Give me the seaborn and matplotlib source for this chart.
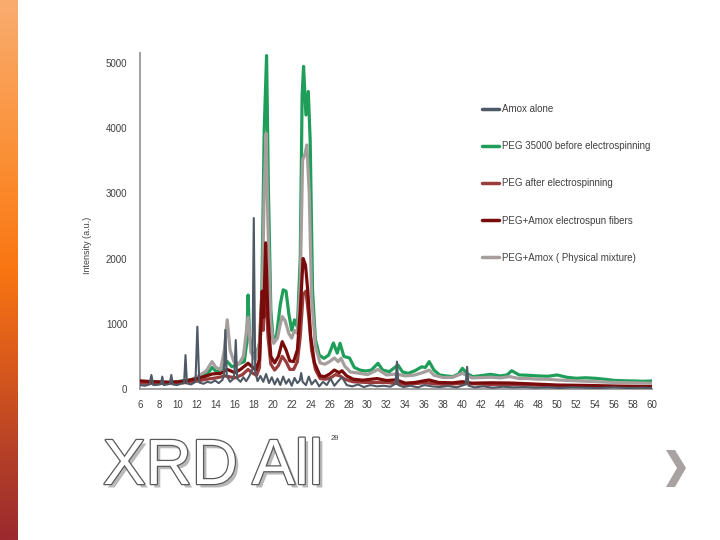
import matplotlib
matplotlib.use("Agg")
import matplotlib.pyplot as plt
import matplotlib.patheffects as pe
from matplotlib.colors import LinearSegmentedColormap
from matplotlib.lines import Line2D
from matplotlib.patches import Polygon
import numpy as np
import pandas as pd
import seaborn as sns

# --- data (2theta, intensity a.u.) ---
AMOX_X = [6.0, 6.5, 7.0, 7.2, 7.4, 7.9, 8.2, 8.35, 8.5, 8.9, 9.15, 9.3, 9.45, 9.9, 10.3, 10.65,
          10.8, 10.95, 11.4, 11.85, 12.05, 12.25, 12.7, 13.1, 13.5, 13.9, 14.3, 14.7, 14.85, 15.0,
          15.15, 15.5, 15.8, 15.95, 16.1, 16.25, 16.6, 16.9, 17.2, 17.5, 17.85, 18.0, 18.15, 18.4,
          18.7, 19.0, 19.3, 19.6, 19.9, 20.2, 20.5, 20.8, 21.1, 21.4, 21.7, 22.0, 22.3, 22.6, 22.85,
          23.0, 23.15, 23.5, 23.8, 24.1, 24.5, 24.9, 25.3, 25.7, 26.1, 26.5, 26.9, 27.3, 27.8, 28.4,
          29.0, 29.6, 30.3, 31.0, 31.7, 32.4, 32.95, 33.1, 33.25, 33.8, 34.5, 35.3, 36.0, 36.8, 37.6,
          38.5, 39.4, 40.35, 40.5, 40.65, 41.3, 42.2, 43.2, 44.3, 45.4, 46.5, 47.7, 49.0, 50.3, 51.6,
          53.0, 54.5, 56.0, 57.5, 59.0, 60.0]
AMOX_Y = [60, 50, 70, 215, 60, 65, 75, 190, 60, 70, 80, 215, 70, 60, 80, 90,
          520, 85, 70, 110, 955, 100, 80, 110, 95, 130, 90, 140, 220, 905,
          200, 110, 150, 230, 750, 160, 110, 180, 120, 190, 300, 2620, 260, 120,
          200, 110, 230, 90, 180, 70, 160, 60, 190, 80, 150, 50, 170, 90, 130,
          245, 110, 60, 190, 70, 140, 40, 110, 60, 160, 50, 120, 180, 60, 40,
          70, 30, 60, 40, 50, 35, 80, 420, 60, 30, 50, 25, 60, 40, 30,
          45, 25, 70, 340, 50, 25, 40, 20, 35, 25, 30, 20, 25, 15, 25,
          20, 15, 25, 15, 20, 15]

PEG_BEFORE_X = [6.0, 7.0, 8.0, 9.0, 10.0, 11.0, 11.8, 12.5, 13.1, 13.6, 14.1, 14.6, 15.2, 15.7, 16.3,
                17.0, 17.25, 17.4, 17.55, 17.8, 18.2, 18.6, 18.85, 19.1, 19.35, 19.55, 19.8, 20.05,
                20.4, 20.8, 21.1, 21.4, 21.7, 22.0, 22.3, 22.6, 22.9, 23.1, 23.25, 23.5, 23.75, 23.95,
                24.2, 24.5, 24.9, 25.4, 25.9, 26.4, 26.8, 27.1, 27.5, 28.1, 28.6, 29.2, 29.8, 30.4,
                31.1, 31.6, 32.3, 33.2, 33.7, 34.3, 35.0, 35.7, 36.1, 36.5, 37.0, 37.6, 38.3, 39.0,
                39.6, 40.0, 40.5, 41.1, 42.0, 43.0, 44.0, 44.7, 45.2, 46.0, 47.0, 48.0, 49.0, 50.0,
                51.0, 52.0, 53.0, 54.0, 55.0, 56.0, 57.0, 58.0, 59.0, 60.0]
PEG_BEFORE_Y = [110, 100, 105, 100, 115, 130, 160, 200, 230, 330, 260, 310, 420, 340, 380,
                420, 700, 1440, 800, 560, 495, 700, 1500, 3970, 5110, 3000, 1200, 750,
                820, 1300, 1520, 1500, 1150, 900, 1060, 950, 2000, 4500, 4945, 4200, 4560, 3800,
                1500, 760, 520, 470, 520, 705, 550, 700, 500, 475, 330, 290, 275, 290,
                394, 290, 265, 368, 260, 240, 280, 340, 330, 420, 290, 215, 200, 190,
                230, 317, 235, 190, 205, 225, 200, 215, 280, 215, 210, 200, 195, 215,
                180, 164, 172, 164, 150, 132, 126, 123, 118, 123]

PEG_AFTER_X = [6.0, 8.0, 10.0, 11.0, 12.0, 13.0, 14.0, 15.0, 16.0, 16.8, 17.4, 17.9, 18.3, 18.6,
               18.85, 19.0, 19.2, 19.5, 19.8, 20.2, 20.6, 21.0, 21.4, 21.8, 22.2, 22.6, 22.9, 23.2,
               23.5, 23.8, 24.1, 24.5, 25.0, 25.6, 26.2, 26.6, 27.1, 27.6, 28.5, 30.0, 32.0, 34.0,
               36.0, 38.0, 40.0, 43.0, 46.0, 50.0, 55.0, 60.0]
PEG_AFTER_Y = [90, 85, 90, 100, 120, 150, 170, 200, 170, 220, 300, 240, 210, 330,
               1490, 900, 1700, 800, 380, 290, 360, 500, 420, 300, 300, 420, 800, 1450,
               1500, 1100, 600, 300, 160, 150, 180, 220, 200, 150, 110, 100, 100, 70,
               95, 70, 85, 70, 65, 50, 40, 30]

FIBERS_X = [6.0, 7.0, 8.0, 9.0, 10.0, 11.0, 12.0, 13.0, 13.6, 14.5, 15.2, 16.0, 16.6, 17.4, 17.9,
            18.2, 18.6, 18.9, 19.05, 19.25, 19.5, 19.8, 20.2, 20.6, 21.0, 21.4, 21.8, 22.2, 22.6,
            22.9, 23.2, 23.45, 23.7, 24.0, 24.4, 25.0, 25.5, 26.0, 26.5, 27.0, 27.3, 27.8, 28.5,
            29.5, 31.0, 32.0, 33.0, 34.0, 35.0, 36.0, 36.5, 37.5, 39.0, 40.0, 41.0, 43.0, 45.0,
            47.0, 50.0, 53.0, 56.0, 60.0]
FIBERS_Y = [125, 115, 110, 105, 110, 130, 160, 200, 230, 240, 300, 250, 300, 395, 330,
            290, 450, 1500, 1100, 2240, 1100, 500, 400, 500, 725, 600, 430, 420, 600,
            1200, 2000, 1900, 1500, 800, 400, 200, 190, 230, 290, 250, 280, 200, 150,
            135, 160, 130, 140, 90, 100, 127, 138, 100, 95, 112, 90, 95, 92,
            80, 61, 55, 45, 36]

MIXTURE_X = [6.0, 7.0, 8.0, 9.0, 10.0, 11.0, 11.8, 12.4, 13.0, 13.6, 14.0, 14.5, 14.9, 15.2, 15.5,
             15.9, 16.4, 16.9, 17.4, 17.7, 18.2, 18.6, 18.9, 19.1, 19.3, 19.5, 19.8, 20.1, 20.5,
             20.8, 21.0, 21.3, 21.7, 22.0, 22.3, 22.6, 22.9, 23.15, 23.4, 23.6, 23.85, 24.1, 24.5,
             25.0, 25.5, 26.0, 26.5, 26.9, 27.2, 27.6, 28.2, 29.0, 30.0, 31.1, 32.0, 33.0, 34.0,
             35.0, 36.0, 36.5, 37.0, 38.0, 39.0, 40.0, 41.0, 42.0, 43.0, 44.0, 45.0, 46.0, 47.0,
             48.0, 49.0, 50.0, 52.0, 54.0, 56.0, 58.0, 60.0]
MIXTURE_Y = [100, 95, 90, 95, 110, 120, 170, 220, 280, 420, 330, 300, 600, 1060, 600,
             420, 380, 500, 1100, 560, 445, 700, 1500, 3000, 3920, 2500, 1000, 700, 780,
             1000, 1110, 1050, 850, 780, 900, 850, 1600, 3510, 3600, 3740, 3000, 1400, 650,
             400, 380, 420, 475, 420, 470, 350, 260, 245, 220, 300, 215, 230, 200,
             215, 260, 290, 210, 175, 180, 240, 170, 175, 180, 170, 190, 160, 160,
             150, 150, 138, 125, 112, 100, 95, 87]

LABELS = ["Amox alone", "PEG 35000 before electrospinning", "PEG after electrospinning",
          "PEG+Amox electrospun fibers", "PEG+Amox ( Physical mixture)"]
COLORS = ["#4e5965", "#1f9e5a", "#9a3c3b", "#7a0b0b", "#a59e9c"]
X_TICKS = list(range(6, 61, 2))
Y_TICKS = [0, 1000, 2000, 3000, 4000, 5000]

TEXT_COLOR = "#404040"
AXIS_COLOR = "#a0a0a0"


def build_frame():
    parts = []
    for label, xs, ys in zip(LABELS,
                             [AMOX_X, PEG_BEFORE_X, PEG_AFTER_X, FIBERS_X, MIXTURE_X],
                             [AMOX_Y, PEG_BEFORE_Y, PEG_AFTER_Y, FIBERS_Y, MIXTURE_Y]):
        parts.append(pd.DataFrame({"two_theta": xs, "intensity": ys, "sample": label}))
    return pd.concat(parts, ignore_index=True)


def draw_side_bar(fig):
    bar = fig.add_axes([0, 0, 18 / 720, 1])
    cmap = LinearSegmentedColormap.from_list(
        "slide", [(0.0, "#f9ac70"), (0.3, "#fb8f33"), (0.5, "#f97512"),
                  (0.68, "#d8591d"), (0.85, "#b33f28"), (1.0, "#9c2a2e")])
    bar.imshow(np.linspace(0, 1, 256).reshape(-1, 1), aspect="auto", cmap=cmap)
    bar.axis("off")


def main():
    sns.set_style("white")
    plt.rcParams["font.family"] = ["Liberation Sans", "DejaVu Sans"]

    df = build_frame()
    fig = plt.figure(figsize=(7.2, 5.4), dpi=100)
    draw_side_bar(fig)

    ax = fig.add_axes([140 / 720, 151 / 540, 512 / 720, 336 / 540])
    # draw order: green under gray under reds, amox on top
    z_order = {LABELS[1]: 1, LABELS[4]: 2, LABELS[2]: 3, LABELS[3]: 4, LABELS[0]: 5}
    widths = {LABELS[0]: 1.5, LABELS[1]: 2.3, LABELS[2]: 2.3, LABELS[3]: 2.3, LABELS[4]: 2.3}
    for label, color in zip(LABELS, COLORS):
        sub = df[df["sample"] == label]
        sns.lineplot(data=sub, x="two_theta", y="intensity", color=color, ax=ax,
                     linewidth=widths[label], zorder=z_order[label], sort=False,
                     estimator=None, legend=False)

    ax.set_xlim(6, 60)
    ax.set_ylim(0, 5150)
    ax.set_xticks(X_TICKS)
    ax.set_yticks(Y_TICKS)
    ax.set_xlabel("")
    ax.set_ylabel("")
    for side in ["top", "right"]:
        ax.spines[side].set_visible(False)
    for side in ["left", "bottom"]:
        ax.spines[side].set_color(AXIS_COLOR)
        ax.spines[side].set_linewidth(1.4)
    ax.tick_params(axis="both", colors=AXIS_COLOR, labelcolor=TEXT_COLOR, labelsize=7,
                   direction="out", width=1.0)
    ax.tick_params(axis="y", length=4, pad=5)
    ax.tick_params(axis="x", length=3, pad=5)
    ax.patch.set_alpha(0)

    handles = [Line2D([], [], color=c, linewidth=2.5) for c in COLORS]
    fig.legend(handles, LABELS, loc="upper left", bbox_to_anchor=(482 / 720, 1 - 104 / 540),
               frameon=False, fontsize=7, labelcolor=TEXT_COLOR, handlelength=1.8,
               handletextpad=0.3, labelspacing=2.8, borderaxespad=0, borderpad=0)

    fig.text(87 / 720, 1 - 245 / 540, "Intensity (a.u.)", rotation=90, fontsize=6.5,
             color=TEXT_COLOR, ha="center", va="center")
    fig.text(331 / 720, 1 - 438 / 540, "2θ", fontsize=5.5, color=TEXT_COLOR,
             ha="left", va="center")

    title = fig.text(103 / 720, 1 - 484 / 540, "XRD All", fontsize=46, color="white",
                     family=["Liberation Sans Narrow", "Liberation Sans", "DejaVu Sans"],
                     ha="left", va="baseline")
    title.set_path_effects([
        pe.SimplePatchShadow(offset=(2.5, -2.5), shadow_rgbFace="#b9b9b9", alpha=1.0),
        pe.Stroke(linewidth=1.8, foreground="#5a5a5a"),
        pe.Normal(),
    ])

    chevron = [(666, 450), (675, 450), (686, 468), (675, 487), (666, 487), (677, 468)]
    fig.patches.append(Polygon([(x / 720, 1 - y / 540) for x, y in chevron], closed=True,
                               facecolor="#a8a2a2", edgecolor="none",
                               transform=fig.transFigure, figure=fig))

    fig.savefig("out.png", dpi=100)
    plt.close(fig)


if __name__ == "__main__":
    main()
